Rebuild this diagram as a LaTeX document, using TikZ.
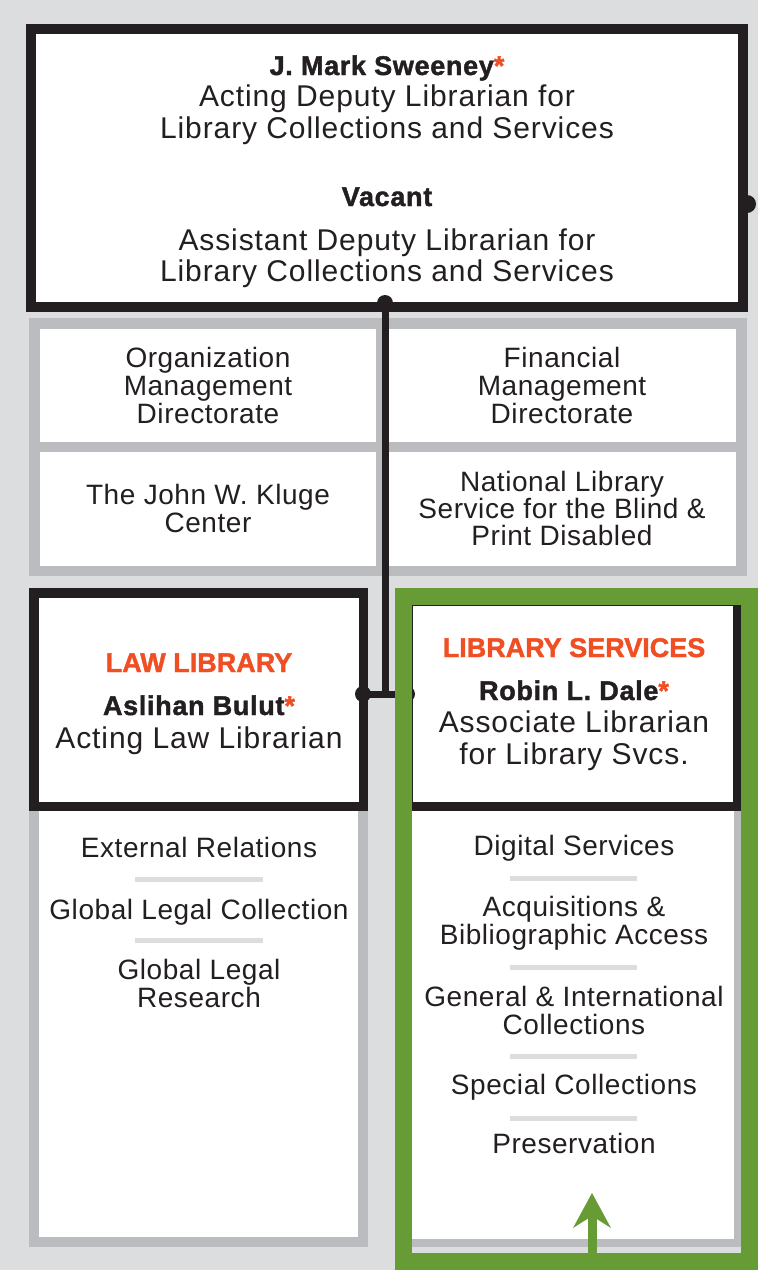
\documentclass[tikz,border=0pt]{standalone}
\usepackage{fontspec}
\setmainfont{Liberation Sans}
\newfontfamily\regf[LetterSpace=2]{Liberation Sans}
\newfontfamily\bigf[LetterSpace=3]{Liberation Sans}
\newfontfamily\boldf[LetterSpace=2.5,FakeBold=1.5]{Liberation Sans Bold}
\newfontfamily\headf[FakeBold=1.5]{Liberation Sans Bold}
\usetikzlibrary{arrows.meta}
\definecolor{bg}{HTML}{DCDDDF}
\definecolor{gridgray}{HTML}{BBBCC0}
\definecolor{ink}{HTML}{231F20}
\definecolor{loc}{HTML}{F04E23}
\definecolor{lgreen}{HTML}{669B35}
\newcommand{\acstar}{{\color{loc}*}}
\begin{document}
\begin{tikzpicture}[x=1pt,y=-1pt,
  blackbox/.style={draw=ink, fill=white, inner sep=0pt, outer sep=0pt},
  graybox/.style={draw=gridgray, fill=white, inner sep=0pt, outer sep=0pt},
  cell/.style={fill=white, inner sep=0pt, outer sep=0pt},
  dot/.style={circle, fill=ink, inner sep=0pt, minimum size=16pt},
  conn/.style={draw=ink, line width=7pt},
  sepline/.style={draw=bg, line width=5pt},
  reg/.style={inner sep=0pt, anchor=base, text=ink, font=\regf\fontsize{28}{28}\selectfont},
  big/.style={inner sep=0pt, anchor=base, text=ink, font=\bigf\fontsize{30}{30}\selectfont},
  bld/.style={inner sep=0pt, anchor=base, text=ink, font=\boldf\fontsize{27}{27}\selectfont},
  head/.style={inner sep=0pt, anchor=base, text=loc, font=\headf\fontsize{27}{27}\selectfont}
]
\fill[bg] (0,0) rectangle (758,1270);
\useasboundingbox (0,0) rectangle (758,1270);

% top box
\node[blackbox, line width=10pt, minimum width=712pt, minimum height=278pt] (top) at (387,168) {};

% grid of staff offices
\node[fill=gridgray, inner sep=0pt, minimum width=718pt, minimum height=258pt] (grid) at (388,447) {};
\node[cell, minimum width=336pt, minimum height=113pt] (c11) at (208,385.5) {};
\node[cell, minimum width=348pt, minimum height=113pt] (c12) at (562,385.5) {};
\node[cell, minimum width=336pt, minimum height=114pt] (c21) at (208,509) {};
\node[cell, minimum width=348pt, minimum height=114pt] (c22) at (562,509) {};

% law library
\node[graybox, line width=10pt, minimum width=329pt, minimum height=437pt] (lawlist) at (198.5,1023.5) {};
\node[blackbox, line width=9.5pt, minimum width=329.5pt, minimum height=213.5pt] (law) at (198.5,699.5) {};

% library services
\node[graybox, line width=8pt, minimum width=331pt, minimum height=439pt] (lslist) at (572.5,1023.5) {};
\node[blackbox, line width=9pt, minimum width=329pt, minimum height=205pt] (ls) at (573,704) {};

% connectors
\node[dot] (d1) at (385,303) {};
\node[dot, minimum size=18pt] (d4) at (747,204) {};
\node[dot] (d2) at (363,694) {};
\node[dot] (d3) at (407,694) {};
\draw[conn] (d1.center) |- (d2.center);
\draw[conn] (d2.center) -- (d3.center);

% green frame
\node[draw=lgreen, line width=17pt, inner sep=0pt, minimum width=346pt, minimum height=665pt] (green) at (576.5,929) {};

% arrow
\coordinate (abase) at (592,1270);
\coordinate (atip) at (592,1193);
\draw[lgreen, line width=9pt, -{Stealth[length=35pt, width=38pt, inset=12pt, line width=0pt]}] (abase) -- (atip);

% texts: top
\node[bld] (t1) at (387,75) {J. Mark Sweeney\acstar};
\node[big] (t2) at (387,106) {Acting Deputy Librarian for};
\node[big] (t3) at (387,138) {Library Collections and Services};
\node[bld] (t4) at (387,206) {Vacant};
\node[big] (t5) at (387,250) {Assistant Deputy Librarian for};
\node[big] (t6) at (387,281) {Library Collections and Services};

% grid texts
\node[reg] (g1) at (208,367) {Organization};
\node[reg] (g2) at (208,395) {Management};
\node[reg] (g3) at (208,423) {Directorate};
\node[reg] (g4) at (562,367) {Financial};
\node[reg] (g5) at (562,395) {Management};
\node[reg] (g6) at (562,423) {Directorate};
\node[reg] (g7) at (208,504) {The John W. Kluge};
\node[reg] (g8) at (208,532) {Center};
\node[reg] (g9) at (562,491) {National Library};
\node[reg] (g10) at (562,518) {Service for the Blind \&};
\node[reg] (g11) at (562,545) {Print Disabled};

% law texts
\node[head] (l1) at (199,672) {LAW LIBRARY};
\node[bld] (l2) at (199,715) {Aslihan Bulut\acstar};
\node[big] (l3) at (199,748) {Acting Law Librarian};
\node[reg] (l4) at (199,857) {External Relations};
\draw[sepline] (135,879) -- (263,879);
\node[reg] (l5) at (199,919) {Global Legal Collection};
\draw[sepline] (135,940) -- (263,940);
\node[reg] (l6) at (199,979) {Global Legal};
\node[reg] (l7) at (199,1007) {Research};

% library services texts
\node[head] (s1) at (574,657) {LIBRARY SERVICES};
\node[bld] (s2) at (574,700) {Robin L. Dale\acstar};
\node[big] (s3) at (574,732) {Associate Librarian};
\node[big] (s4) at (574,764) {for Library Svcs.};
\node[reg] (s5) at (574,855) {Digital Services};
\draw[sepline] (510,878) -- (637,878);
\node[reg] (s6) at (574,916) {Acquisitions \&};
\node[reg] (s7) at (574,944) {Bibliographic Access};
\draw[sepline] (510,967) -- (637,967);
\node[reg] (s8) at (574,1006) {General \& International};
\node[reg] (s9) at (574,1034) {Collections};
\draw[sepline] (510,1056) -- (637,1056);
\node[reg] (s10) at (574,1094) {Special Collections};
\draw[sepline] (510,1118) -- (637,1118);
\node[reg] (s11) at (574,1153) {Preservation};
\end{tikzpicture}
\end{document}
